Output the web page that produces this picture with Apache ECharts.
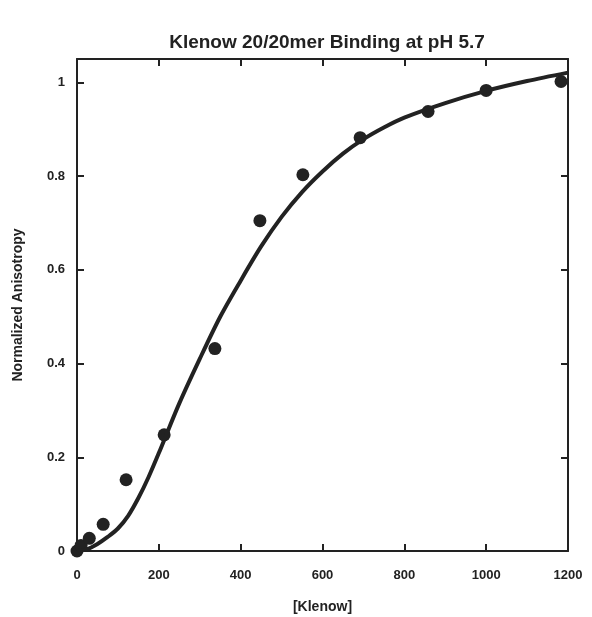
<!DOCTYPE html>
<html>
<head>
<meta charset="utf-8">
<script src="https://cdn.jsdelivr.net/npm/echarts@6/dist/echarts.min.js"></script>
<style>
  html, body { margin: 0; padding: 0; background: #fff; }
  #main { width: 592px; height: 617px; }
</style>
</head>
<body>
<div id="main"></div>
<script>
// 测量点 [Klenow, anisotropy]
var pointsX = [0, 10, 30, 64, 120, 213, 337, 447, 552, 692, 858, 1000, 1183];
var pointsY = [0, 0.012, 0.027, 0.057, 0.152, 0.248, 0.432, 0.705, 0.803, 0.882, 0.938, 0.983, 1.002];

// 拟合曲线
var fitX = [0, 25, 50, 75, 100, 125, 150, 175, 200, 250, 300, 350, 400, 450, 500, 550, 600, 650, 700, 750, 800, 900, 1000, 1100, 1200];
var fitY = [0, 0.004, 0.015, 0.03, 0.048, 0.075, 0.113, 0.158, 0.209, 0.315, 0.41, 0.5, 0.577, 0.65, 0.713, 0.766, 0.81, 0.848, 0.879, 0.904, 0.925, 0.956, 0.982, 1.003, 1.021];

var xTicks = [0, 200, 400, 600, 800, 1000, 1200];
var yTicks = [0, 0.2, 0.4, 0.6, 0.8, 1];

var ink = '#222';
var font = 'Liberation Sans';

var zip = function(xs, ys){
  return xs.map(function(x, i){ return [x, ys[i]]; });
};

var myChart = echarts.init(document.getElementById('main'));

var axisBase = function(show){
  return {
    axisLine: { show: true, onZero: false, lineStyle: { color: ink, width: 2 } },
    axisTick: { show: true, inside: true, length: 7, lineStyle: { color: ink, width: 2 } },
    splitLine: { show: false },
    axisLabel: {
      show: show,
      color: ink,
      fontFamily: font,
      fontWeight: 'bold',
      fontSize: 13
    }
  };
};

var xMain = axisBase(true);
xMain.type = 'value';
xMain.position = 'bottom';
xMain.min = xTicks[0];
xMain.max = xTicks[xTicks.length - 1];
xMain.interval = 200;
xMain.axisLabel.margin = 18;
xMain.axisLabel.formatter = function(v){ return String(v); };
xMain.name = '[Klenow]';
xMain.nameLocation = 'middle';
xMain.nameGap = 49;
xMain.nameTextStyle = { color: ink, fontFamily: font, fontWeight: 'bold', fontSize: 14 };

var xTop = axisBase(false);
xTop.type = 'value';
xTop.position = 'top';
xTop.min = xMain.min;
xTop.max = xMain.max;
xTop.interval = 200;

var yMain = axisBase(true);
yMain.type = 'value';
yMain.position = 'left';
yMain.min = 0;
yMain.max = 1.05;
yMain.interval = 0.2;
yMain.axisLabel.margin = 12;
yMain.axisLabel.showMaxLabel = false;
yMain.axisLabel.formatter = function(v){
  var r = Math.round(v * 10) / 10;
  return Math.abs(v - r) < 1e-6 && yTicks.indexOf(r) >= 0 ? String(r) : '';
};
yMain.name = 'Normalized Anisotropy';
yMain.nameLocation = 'middle';
yMain.nameGap = 52;
yMain.nameTextStyle = { color: ink, fontFamily: font, fontWeight: 'bold', fontSize: 14 };

var yRight = axisBase(false);
yRight.type = 'value';
yRight.position = 'right';
yRight.min = 0;
yRight.max = 1.05;
yRight.interval = 0.2;

option = {
  backgroundColor: '#fff',
  animation: false,
  title: {
    text: 'Klenow 20/20mer Binding at pH 5.7',
    left: 322,
    textAlign: 'center',
    top: 28,
    textStyle: { color: ink, fontFamily: font, fontWeight: 'bold', fontSize: 19 }
  },
  grid: { left: 77, right: 24, top: 59, bottom: 66, containLabel: false, outerBoundsMode: 'none' },
  xAxis: [xMain, xTop],
  yAxis: [yMain, yRight],
  series: [{
    name: 'fit',
    type: 'line',
    smooth: 0.3,
    symbol: 'none',
    xAxisIndex: 0,
    yAxisIndex: 0,
    lineStyle: { color: ink, width: 4 },
    data: zip(fitX, fitY)
  }, {
    name: 'data',
    type: 'scatter',
    symbolSize: 13,
    xAxisIndex: 0,
    yAxisIndex: 0,
    itemStyle: { color: ink, opacity: 1 },
    data: zip(pointsX, pointsY)
  }]
};

myChart.setOption(option);
</script>
</body>
</html>
